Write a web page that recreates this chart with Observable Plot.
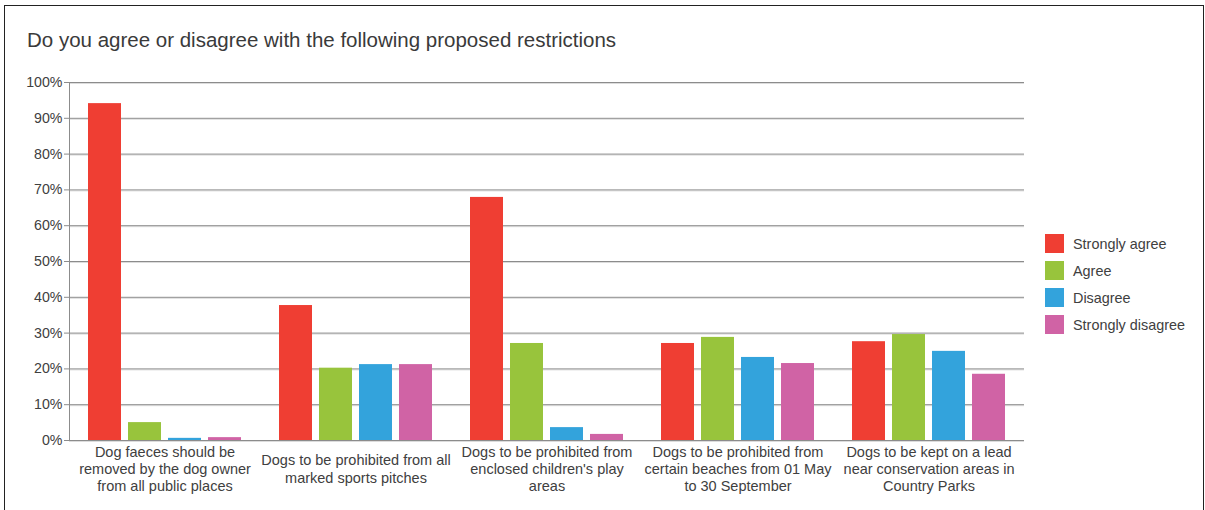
<!DOCTYPE html>
<html><head><meta charset="utf-8">
<script src="https://cdn.jsdelivr.net/npm/d3@7"></script>
<script src="https://cdn.jsdelivr.net/npm/@observablehq/plot@0.6"></script>
<style>
body{margin:0;background:#fff;font-family:"Liberation Sans",Arial,sans-serif;}
#wrap{position:relative;width:1205px;height:510px;overflow:hidden;background:#fff;}
#frame{position:absolute;left:4px;top:5px;width:1200px;height:540px;border:1px solid #222;box-sizing:border-box;pointer-events:none;}
#title{position:absolute;left:27px;top:30px;font-size:20.5px;color:#3a3a3a;line-height:1;white-space:nowrap;}
#chart{position:absolute;left:0;top:0;}
#legend{position:absolute;left:1045px;top:230px;}
.item{display:flex;align-items:center;height:27px;font-size:14.4px;color:#404040;white-space:nowrap;}
.sw{width:19px;height:19px;margin-right:9px;flex:none;}
</style></head><body>
<div id="wrap"><div id="chart"></div><div id="frame"></div><div id="title">Do you agree or disagree with the following proposed restrictions</div><div id="legend"></div></div>
<script>
const categories = [
  "Dog faeces should be\nremoved by the dog owner\nfrom all public places",
  "Dogs to be prohibited from all\nmarked sports pitches",
  "Dogs to be prohibited from\nenclosed children's play\nareas",
  "Dogs to be prohibited from\ncertain beaches from 01 May\nto 30 September",
  "Dogs to be kept on a lead\nnear conservation areas in\nCountry Parks"
];
const series = ["Strongly agree", "Agree", "Disagree", "Strongly disagree"];
const colors = ["#ef3e33", "#98c43c", "#33a3dc", "#d063a5"];
const stronglyAgree    = [94.1, 37.7, 67.9, 27.1, 27.6];
const agree            = [5.0, 20.2, 27.1, 28.8, 29.6];
const disagree         = [0.6, 21.2, 3.6, 23.2, 24.9];
const stronglyDisagree = [0.8, 21.2, 1.7, 21.5, 18.5];
const yTicks = [0, 10, 20, 30, 40, 50, 60, 70, 80, 90, 100];

const bySeries = [stronglyAgree, agree, disagree, stronglyDisagree];
const data = categories.flatMap((c, i) => series.map((s, j) => ({category: c, series: s, value: bySeries[j][i]})));

const chart = Plot.plot({
  width: 1205, height: 510,
  marginLeft: 69, marginRight: 181, marginTop: 82, marginBottom: 70,
  style: {fontFamily: "Liberation Sans, Arial, sans-serif", fontSize: "14px", color: "#404040", background: "transparent"},
  fx: {domain: categories, padding: 0, axis: null},
  x: {domain: series, axis: null, paddingInner: 0.175, paddingOuter: 0.475},
  y: {domain: [0, 100], axis: null},
  color: {domain: series, range: colors},
  marks: [
    Plot.ruleY(yTicks, {stroke: "#dcdcdc", dy: 1}),
    Plot.ruleY(yTicks, {stroke: "#8c8c8c"}),
    Plot.barY(data, {fx: "category", x: "series", y: "value", fill: "series"}),
    Plot.axisY({ticks: yTicks, tickFormat: d => d + "%", tickSize: 5, tickPadding: 2, stroke: "#8c8c8c", fontSize: 14.2, label: null}),
    Plot.text(categories, {fx: d => d, text: d => d, frameAnchor: "bottom", dy: 28, lineAnchor: "middle", lineHeight: 1.18, fontSize: 14.5, fill: "#404040"}),
    Plot.frame({anchor: "left", facetAnchor: "left", stroke: "#8c8c8c"})
  ]
});
document.getElementById("chart").appendChild(chart);

const legend = document.getElementById("legend");
series.forEach((s, i) => {
  const item = document.createElement("div");
  item.className = "item";
  const sw = document.createElement("div");
  sw.className = "sw";
  sw.style.background = colors[i];
  const label = document.createElement("span");
  label.textContent = s;
  item.appendChild(sw);
  item.appendChild(label);
  legend.appendChild(item);
});
</script>
</body></html>
